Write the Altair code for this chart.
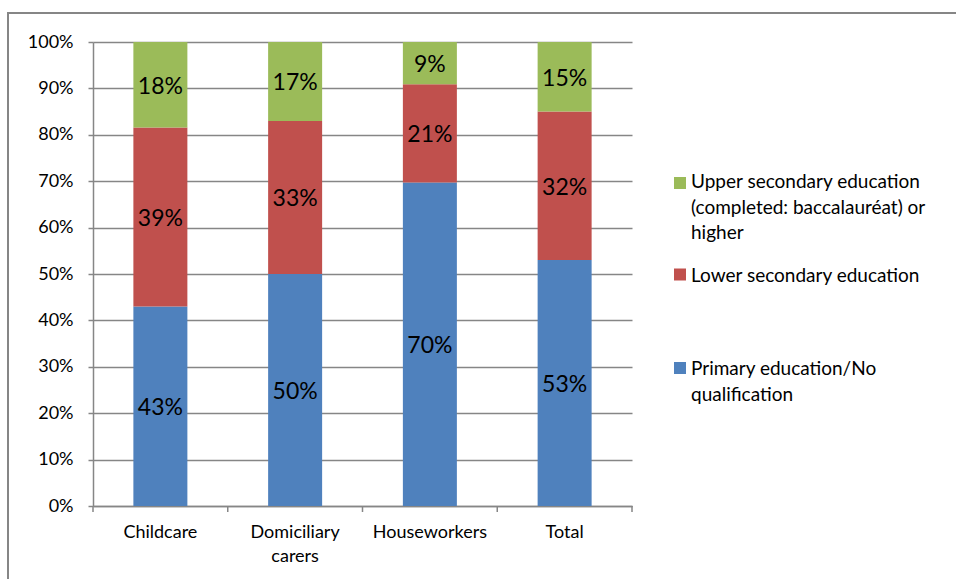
import altair as alt
import pandas as pd

categories = ["Childcare", "Domiciliary carers", "Houseworkers", "Total"]
series = [
    "Primary education/No qualification",
    "Lower secondary education",
    "Upper secondary education (completed: baccalauréat) or higher",
]
primary = [0.430, 0.500, 0.697, 0.530]
lower = [0.386, 0.330, 0.212, 0.320]
upper = [0.184, 0.170, 0.091, 0.150]
colors = ["#4F81BD", "#C0504D", "#9BBB59"]
legend_labels = [
    "Primary education/No\nqualification",
    "Lower secondary education",
    "Upper secondary education\n(completed: baccalauréat) or\nhigher",
]
y_ticks = [i / 10 for i in range(11)]

rows = []
for si, (s, vals) in enumerate(zip(series, [primary, lower, upper])):
    for c, v in zip(categories, vals):
        rows.append({"cat": c, "series": s, "idx": si, "value": v})
df = pd.DataFrame(rows)

W, H = 539, 464
FONT = "Lato"
GRAY = "#868686"

color_scale = alt.Scale(domain=series, range=colors)

base = alt.Chart(df).transform_stack(
    stack="value", as_=["y0", "y1"], groupby=["cat"], sort=[alt.SortField("idx", order="ascending")]
).transform_calculate(mid="(datum.y0 + datum.y1) / 2")

x_enc = alt.X(
    "cat:N",
    sort=categories,
    scale=alt.Scale(paddingInner=0, paddingOuter=0),
    axis=alt.Axis(
        title=None, labelAngle=0, ticks=False, domain=True, domainColor=GRAY, domainWidth=1.5,
        labelExpr="split(datum.label, ' ')", labelLineHeight=24, labelPadding=17,
        labelFontSize=18, labelFont=FONT, labelColor="#000000", labelBaseline="top",
    ),
)

bars = base.mark_bar(width=54).encode(
    x=x_enc,
    y=alt.Y(
        "y0:Q",
        scale=alt.Scale(domain=[0, 1], nice=False),
        axis=alt.Axis(
            title=None, values=y_ticks, format=".0%", grid=True, gridColor=GRAY, gridWidth=1.5,
            domainColor=GRAY, domainWidth=1.5, tickColor=GRAY, tickWidth=1.5, tickSize=5,
            labelPadding=15, labelFontSize=18, labelFont=FONT, labelColor="#000000",
        ),
    ),
    y2="y1:Q",
    color=alt.Color("series:N", scale=color_scale, legend=None),
)

labels = base.mark_text(fontSize=23, font=FONT, baseline="middle", dy=2, color="#000000").encode(
    x=alt.X("cat:N", sort=categories),
    y=alt.Y("mid:Q"),
    text=alt.Text("value:Q", format=".0%"),
)

cat_df = pd.DataFrame({"cat": categories})
xticks = alt.Chart(cat_df).mark_rule(color=GRAY, strokeWidth=1.5).encode(
    x=alt.X("cat:N", sort=categories, bandPosition=0),
    y=alt.value(H), y2=alt.value(H + 6),
)
last_tick = alt.Chart(cat_df.head(1)).mark_rule(color=GRAY, strokeWidth=1.5).encode(
    x=alt.value(W), y=alt.value(H), y2=alt.value(H + 6),
)

frame = alt.Chart(cat_df.head(1)).mark_rect(fill=None, stroke=GRAY, strokeWidth=2, clip=False).encode(
    x=alt.value(-85), x2=alt.value(900), y=alt.value(-29), y2=alt.value(600),
)

# legend (manual, Excel-like)
leg_sq_y = [326, 232.5, 141]
leg_tx_y = [333, 239.5, 146]
leg_layers = []
for s, c, lab, sy, ty in zip(series, colors, legend_labels, leg_sq_y, leg_tx_y):
    ldf = pd.DataFrame({"series": [s], "label": [lab]})
    leg_layers.append(
        alt.Chart(ldf).mark_square(size=144, color=c, opacity=1).encode(
            x=alt.value(587), y=alt.value(sy)
        )
    )
    leg_layers.append(
        alt.Chart(ldf).mark_text(
            align="left", baseline="alphabetic", lineBreak="\n", lineHeight=25.7,
            fontSize=19, font=FONT, color="#000000",
        ).encode(x=alt.value(598), y=alt.value(ty), text="label:N")
    )

chart = alt.layer(frame, bars, labels, xticks, last_tick, *leg_layers).properties(
    width=W, height=H,
    padding={"left": 93, "top": 42, "right": 324, "bottom": 73},
    autosize=alt.AutoSizeParams(type="none"),
    background="#ffffff",
).configure_view(stroke=None)

chart.save("out.html", embed_options={"renderer": "svg", "actions": False})
